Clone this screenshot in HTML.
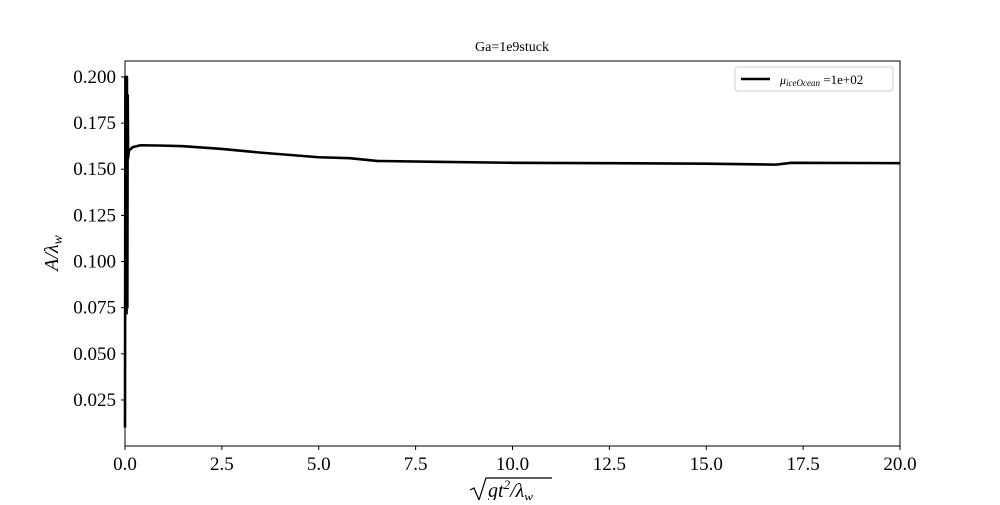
<!DOCTYPE html>
<html><head><meta charset="utf-8"><style>
html,body{margin:0;padding:0;background:#fff;}
svg text{font-family:"Liberation Serif",serif;fill:#000;}
</style></head><body>
<svg width="1000" height="500" viewBox="0 0 1000 500">
<rect x="0" y="0" width="1000" height="500" fill="#fff"/>
<text x="512" y="51" font-size="14" text-anchor="middle">Ga=1e9stuck</text>
<g id="ticks"></g>
<path id="series" fill="none" stroke="#000" stroke-width="2.6" stroke-linejoin="round"/>
<rect x="125" y="61" width="775" height="385" fill="none" stroke="#000" stroke-width="1"/>
<text transform="translate(58,253) rotate(-90)" font-size="20" font-style="italic" text-anchor="middle">A/λ<tspan font-size="14" dy="4">w</tspan></text>
<g>
<path d="M470,490 L474,488 L479,500 L486,478 L552,478" fill="none" stroke="#000" stroke-width="1.2"/>
<text x="488" y="497" font-size="20" font-style="italic">gt<tspan font-size="13" dy="-8">2</tspan><tspan dy="8">/λ</tspan><tspan font-size="13" dy="4">w</tspan></text>
</g>
<g>
<rect x="735" y="67" width="158" height="24" rx="3" fill="#fff" stroke="#ccc"/>
<line x1="741" y1="79" x2="770" y2="79" stroke="#000" stroke-width="2.6"/>
<text x="780" y="84" font-size="12" font-style="italic">μ<tspan font-size="9" dy="2">iceOcean</tspan><tspan font-style="normal" font-size="13" dy="-2"> =1e+02</tspan></text>
</g>
</svg>
<script>
const xs=[0,0.01,0.02,0.03,0.04,0.05,0.06,0.07,0.08,0.1,0.2,0.4,1,1.5,2.5,3.5,5,5.8,6.5,8,10,12.5,15,16.8,17.2,20];
const ys=[0.01,0.2,0.072,0.2,0.072,0.2,0.075,0.19,0.156,0.16,0.162,0.163,0.1628,0.1625,0.161,0.159,0.1565,0.156,0.1545,0.154,0.1535,0.1533,0.153,0.1525,0.1535,0.1533];
const xTicks=[0,2.5,5,7.5,10,12.5,15,17.5,20];
const xTickLabels=["0.0","2.5","5.0","7.5","10.0","12.5","15.0","17.5","20.0"];
const yTicks=[0.025,0.05,0.075,0.1,0.125,0.15,0.175,0.2];
const yTickLabels=["0.025","0.050","0.075","0.100","0.125","0.150","0.175","0.200"];
const X=v=>125+v*38.75;
const Y=v=>446.1-v*1845.7;
const NS="http://www.w3.org/2000/svg";
const g=document.getElementById('ticks');
xTicks.forEach((t,i)=>{
 const l=document.createElementNS(NS,'line');
 l.setAttribute('x1',X(t));l.setAttribute('x2',X(t));l.setAttribute('y1',446);l.setAttribute('y2',450);l.setAttribute('stroke','#000');
 
 
 g.appendChild(l);
 const s=document.createElementNS(NS,'text');
 s.setAttribute('x',X(t));s.setAttribute('y',470);s.setAttribute('font-size','19');s.setAttribute('text-anchor','middle');
 s.textContent=xTickLabels[i];
 
 
 g.appendChild(s);
});
yTicks.forEach((t,i)=>{
 const l=document.createElementNS(NS,'line');
 l.setAttribute('x1',121);l.setAttribute('x2',125);l.setAttribute('y1',Y(t));l.setAttribute('y2',Y(t));l.setAttribute('stroke','#000');
 
 
 g.appendChild(l);
 const s=document.createElementNS(NS,'text');
 s.setAttribute('x',116);s.setAttribute('y',Y(t)+6);s.setAttribute('font-size','19');s.setAttribute('text-anchor','end');
 s.textContent=yTickLabels[i];
 
 
 g.appendChild(s);
});
document.getElementById('series').setAttribute('d',xs.map((x,i)=>(i?'L':'M')+X(x).toFixed(2)+','+Y(ys[i]).toFixed(2)).join(' '));
</script>
</body></html>
